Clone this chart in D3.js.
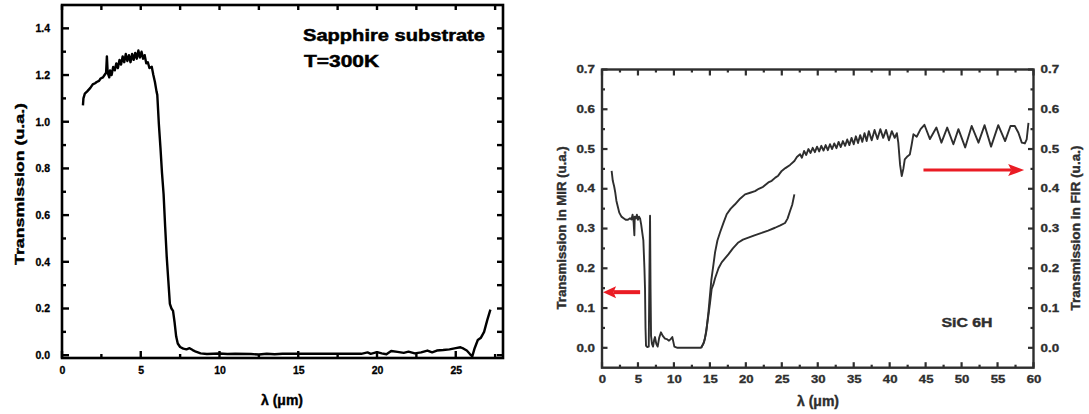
<!DOCTYPE html>
<html>
<head>
<meta charset="utf-8">
<script src="https://cdn.jsdelivr.net/npm/d3@7"></script>
<style>
  body { margin: 0; background: #fff; }
  svg { display: block; font-family: "Liberation Sans", Arial, sans-serif; font-weight: bold; }
</style>
</head>
<body>
<svg width="1089" height="414"></svg>
<script>
// ---------------- data ----------------
// sapphire substrate, T=300K : [lambda (um), transmission]
const sapphire = [
  [1.33,1.07],[1.36,1.10],[1.45,1.12],[1.6,1.13],[1.8,1.145],[1.95,1.16],[2.1,1.165],[2.2,1.17],
  [2.35,1.175],[2.45,1.185],[2.6,1.19],[2.7,1.2],[2.8,1.21],[2.85,1.28],[2.9,1.21],[3.0,1.19],
  [3.05,1.22],[3.15,1.2],[3.25,1.235],[3.35,1.22],[3.45,1.25],[3.55,1.23],[3.65,1.265],[3.75,1.245],
  [3.85,1.28],[3.95,1.255],[4.05,1.29],[4.15,1.26],[4.25,1.285],[4.35,1.255],[4.45,1.29],[4.55,1.265],
  [4.65,1.295],[4.75,1.27],[4.85,1.305],[4.95,1.275],[5.05,1.3],[5.15,1.27],[5.25,1.285],[5.35,1.25],
  [5.45,1.255],[5.55,1.23],[5.7,1.235],[5.8,1.2],[5.9,1.17],[6.0,1.13],[6.05,1.115],[6.15,0.99],
  [6.25,0.89],[6.35,0.78],[6.45,0.69],[6.55,0.55],[6.65,0.42],[6.75,0.32],[6.85,0.22],[6.95,0.2],
  [7.05,0.19],[7.15,0.14],[7.25,0.08],[7.35,0.05],[7.5,0.035],[7.7,0.028],[7.9,0.025],[8.1,0.03],
  [8.3,0.022],[8.5,0.015],[8.8,0.008],[9.2,0.005],[10,0.007],[10.5,0.005],[11,0.006],[12,0.005],
  [12.5,0.003],[13,0.006],[13.5,0.004],[14,0.006],[15,0.006],[16,0.006],[17,0.006],[18,0.006],
  [19,0.006],[19.4,0.012],[19.6,0.006],[20,0.013],[20.3,0.008],[20.6,0.004],[20.9,0.018],[21.3,0.014],
  [21.7,0.01],[22,0.015],[22.4,0.008],[22.8,0.012],[23.2,0.02],[23.5,0.012],[23.8,0.02],[24.2,0.022],
  [24.6,0.025],[25.0,0.03],[25.3,0.034],[25.5,0.028],[25.7,0.02],[25.9,0.005],[26.05,-0.005],[26.2,0.03],
  [26.4,0.065],[26.6,0.075],[26.8,0.1],[27.0,0.15],[27.2,0.195]
];

// SiC 6H, mid infrared (left axis)
const sicMIR = [
  [1.34,0.445],[1.5,0.42],[1.7,0.405],[1.85,0.39],[2.0,0.37],[2.2,0.355],[2.4,0.34],[2.7,0.33],
  [3.0,0.326],[3.3,0.322],[3.6,0.322],[3.9,0.326],[4.1,0.323],[4.25,0.335],[4.4,0.315],[4.5,0.283],
  [4.55,0.33],[4.7,0.325],[4.85,0.335],[5.0,0.322],[5.15,0.33],[5.3,0.325],[5.45,0.31],[5.6,0.29],
  [5.75,0.27],[5.9,0.2],[5.98,0.15],[6.05,0.05],[6.12,0.005],[6.3,0.002],[6.5,0.003],[6.6,0.2],
  [6.68,0.332],[6.75,0.15],[6.82,0.03],[6.95,0.01],[7.1,0.003],[7.25,0.02],[7.37,0.027],[7.55,0.01],
  [7.74,0.003],[7.95,0.025],[8.2,0.039],[8.45,0.03],[8.76,0.023],[9.0,0.022],[9.32,0.018],[9.55,0.022],
  [9.78,0.027],[10.06,0.003],[10.5,0.0],[11,0.0],[12,0.0],[13,0.0],[13.77,0.0],[14.1,0.01],
  [14.33,0.025],[14.55,0.05],[14.79,0.081],[15.0,0.11],[15.25,0.148],[15.5,0.16],[15.72,0.175],[16.2,0.2],
  [16.64,0.215],[17.1,0.225],[17.57,0.235],[18.2,0.25],[18.96,0.265],[19.6,0.272],[20.35,0.277],[21.2,0.283],
  [22.2,0.289],[23.1,0.295],[24.06,0.302],[24.8,0.308],[25.45,0.314],[25.8,0.325],[26.15,0.344],[26.45,0.36],
  [26.75,0.386]
];

// SiC 6H, far infrared (right axis)
const sicFIR = [
  [13.8,0.0],[14.2,0.015],[14.5,0.04],[14.8,0.09],[15.2,0.17],[15.5,0.21],[15.72,0.24],[16.05,0.27],
  [16.41,0.29],[16.9,0.315],[17.34,0.336],[17.9,0.35],[18.5,0.361],[19.2,0.375],[19.89,0.386],[20.6,0.39],
  [21.28,0.394],[21.8,0.4],[22.4,0.405],[23.13,0.416],[23.6,0.42],[24.1,0.428],[24.5,0.433],[24.99,0.445],
  [25.5,0.452],[26.15,0.46],[26.75,0.47],[27.1,0.48],[27.54,0.487],[27.8,0.478],[28.1,0.495],[28.4,0.485],
  [28.7,0.5],[29.0,0.49],[29.3,0.503],[29.6,0.492],[29.9,0.506],[30.2,0.494],[30.5,0.508],[30.8,0.496],
  [31.1,0.51],[31.4,0.497],[31.7,0.512],[32.0,0.5],[32.3,0.514],[32.6,0.502],[32.9,0.518],[33.2,0.505],
  [33.5,0.52],[33.8,0.508],[34.1,0.524],[34.4,0.51],[34.7,0.528],[35.0,0.512],[35.3,0.532],[35.6,0.515],
  [35.9,0.535],[36.2,0.518],[36.5,0.54],[36.8,0.52],[37.1,0.545],[37.5,0.522],[37.9,0.548],[38.3,0.525],
  [38.7,0.55],[39.1,0.528],[39.5,0.548],[39.9,0.522],[40.3,0.545],[40.7,0.528],[41.0,0.54],[41.2,0.516],
  [41.45,0.46],[41.68,0.432],[41.9,0.45],[42.1,0.474],[42.5,0.482],[42.8,0.486],[43.05,0.51],[43.3,0.537],
  [43.76,0.531],[44.3,0.55],[44.83,0.561],[45.6,0.525],[46.5,0.554],[47.2,0.516],[48.0,0.554],[48.86,0.512],
  [49.56,0.55],[50.5,0.504],[51.4,0.558],[52.35,0.516],[53.2,0.56],[54.1,0.506],[55.1,0.56],[56.05,0.52],
  [56.8,0.558],[57.4,0.558],[57.9,0.541],[58.37,0.516],[58.8,0.514],[59.05,0.524],[59.3,0.566]
];

// ticks
const sapXTicks = [0, 5, 10, 15, 20, 25];
const sapXMinor = [2.5, 7.5, 12.5, 17.5, 22.5, 27.5];
const sapYTicks = [0, 0.2, 0.4, 0.6, 0.8, 1.0, 1.2, 1.4];
const sapYMinor = [0.1, 0.3, 0.5, 0.7, 0.9, 1.1, 1.3];
const sicXTicks = [0, 5, 10, 15, 20, 25, 30, 35, 40, 45, 50, 55, 60];
const sicXMinor = [2.5, 7.5, 12.5, 17.5, 22.5, 27.5, 32.5, 37.5, 42.5, 47.5, 52.5, 57.5];
const sicYTicks = [0, 0.1, 0.2, 0.3, 0.4, 0.5, 0.6, 0.7];
const sicYMinor = [0.05, 0.15, 0.25, 0.35, 0.45, 0.55, 0.65];

// arrows: [x from, x to, y] in the panel's data units
const arrowMIR = [5.3, 0.15, 0.14];
const arrowFIR = [44.7, 58.7, 0.447];

const svg = d3.select("svg");
svg.append("rect").attr("width", 1089).attr("height", 414).attr("fill", "#fff");

// frame, tick labels (d3 axes) and inward tick marks on all four sides
function drawAxes(g, x, y, o) {
  const [x0, x1] = x.range(), [y0, y1] = y.range();
  const fmtY = d3.format(".1f");

  g.append("rect").attr("x", x0).attr("y", y1)
    .attr("width", x1 - x0).attr("height", y0 - y1)
    .attr("fill", "none").attr("stroke", o.color).attr("stroke-width", o.frameW);

  // tick marks, placed through the scales
  const marks = g.append("g").attr("stroke", o.color).attr("stroke-width", o.tickW);
  const hTicks = (vals, yy, len) => marks.append("g").selectAll("line").data(vals).join("line")
    .attr("x1", d => x(d)).attr("x2", d => x(d)).attr("y1", yy).attr("y2", yy + len);
  const vTicks = (vals, xx, len) => marks.append("g").selectAll("line").data(vals).join("line")
    .attr("y1", d => y(d)).attr("y2", d => y(d)).attr("x1", xx).attr("x2", xx + len);
  hTicks(o.xTicks, y0, -o.major);
  hTicks(o.xMinor, y0, -o.minor);
  hTicks(o.xTicks, y1, o.topMajor);
  hTicks(o.xMinor, y1, o.topMinor);
  vTicks(o.yTicks, x0, o.major);
  vTicks(o.yMinor, x0, o.minor);
  vTicks(o.yTicks, x1, -o.rightMajor);
  vTicks(o.yMinor, x1, -o.rightMinor);

  // labels from the library axes
  const lab = (axis, tr, fmt, pad) => {
    const a = g.append("g").attr("transform", tr)
      .call(axis.tickSizeInner(0).tickSizeOuter(0).tickPadding(pad).tickFormat(fmt));
    a.select(".domain").remove();
    a.selectAll(".tick line").remove();
    a.selectAll(".tick text").attr("fill", o.color).style("font-size", o.fs + "px")
      .attr("stroke", o.color).attr("stroke-width", 0.3);
    if (o.stretch) {
      a.selectAll(".tick text").attr("lengthAdjust", "spacingAndGlyphs")
        .attr("textLength", function () {
          const s = this.textContent;
          return s.replace(/\./g, "").length * o.stretch + (s.includes(".") ? 4 : 0);
        });
    }
  };
  lab(d3.axisBottom(x).tickValues(o.xTicks), `translate(0,${y0})`, d3.format("d"), o.xPad);
  lab(d3.axisLeft(y).tickValues(o.yTicks), `translate(${x0},0)`, fmtY, o.yPad);
  if (o.rightLabels) lab(d3.axisRight(y).tickValues(o.yTicks), `translate(${x1},0)`, fmtY, o.yPad);
}

function rotatedTitle(g, txt, cx, cy, fs, len, color) {
  g.append("text")
    .attr("transform", `translate(${cx},${cy}) rotate(-90)`)
    .attr("text-anchor", "middle").attr("dy", "0.35em")
    .attr("textLength", len).attr("lengthAdjust", "spacingAndGlyphs")
    .attr("stroke", color).attr("stroke-width", 0.4)
    .style("font-size", fs + "px").attr("fill", color).text(txt);
}

// ---------------- left panel: sapphire ----------------
const gL = svg.append("g");
const xL = d3.scaleLinear().domain([0, 28]).range([62, 503]);
const yL = d3.scaleLinear().domain([-0.012, 1.5]).range([358, 5]);

gL.append("path").datum(sapphire)
  .attr("d", d3.line().x(d => xL(d[0])).y(d => yL(d[1])))
  .attr("fill", "none").attr("stroke", "#000").attr("stroke-width", 2.4)
  .attr("stroke-linejoin", "round");

drawAxes(gL, xL, yL, {
  xTicks: sapXTicks, xMinor: sapXMinor, yTicks: sapYTicks, yMinor: sapYMinor,
  color: "#000", tickW: 2.4, frameW: 2.6, fs: 10.5,
  major: 7, minor: 4, topMajor: 5, topMinor: 5, rightMajor: 6, rightMinor: 6,
  xPad: 9, yPad: 12
});

gL.append("text").attr("x", 282).attr("y", 405).attr("text-anchor", "middle")
  .attr("stroke", "#000").attr("stroke-width", 0.4)
  .style("font-size", "14px").text("λ (μm)");
rotatedTitle(gL, "Transmission (u.a.)", 19, 184, 13, 162, "#000");

gL.append("text").attr("x", 303).attr("y", 41).attr("textLength", 182)
  .attr("lengthAdjust", "spacingAndGlyphs").attr("stroke", "#000").attr("stroke-width", 0.5)
  .style("font-size", "17px").text("Sapphire substrate");
gL.append("text").attr("x", 304).attr("y", 67).attr("textLength", 75)
  .attr("lengthAdjust", "spacingAndGlyphs").attr("stroke", "#000").attr("stroke-width", 0.5)
  .style("font-size", "17px").text("T=300K");

// ---------------- right panel: SiC 6H ----------------
const ink = "#2e2e2e";
const gR = svg.append("g");
const xR = d3.scaleLinear().domain([0, 60]).range([602, 1033.5]);
const yR = d3.scaleLinear().domain([-0.05, 0.7]).range([367.7, 69.5]);

const lineR = d3.line().x(d => xR(d[0])).y(d => yR(d[1]));
[sicMIR, sicFIR].forEach(s => {
  gR.append("path").datum(s).attr("d", lineR)
    .attr("fill", "none").attr("stroke", ink).attr("stroke-width", 1.9)
    .attr("stroke-linejoin", "round");
});

drawAxes(gR, xR, yR, {
  xTicks: sicXTicks, xMinor: sicXMinor, yTicks: sicYTicks, yMinor: sicYMinor,
  color: ink, tickW: 2.2, frameW: 2.4, fs: 10, stretch: 7.3,
  major: 5.5, minor: 3, topMajor: 6, topMinor: 3, rightMajor: 5.5, rightMinor: 3,
  xPad: 8, yPad: 7, rightLabels: true
});

// red arrows
function arrow(a, w, head) {
  const xa = xR(a[0]), xb = xR(a[1]), yy = yR(a[2]);
  const dir = Math.sign(xb - xa);
  gR.append("line").attr("x1", xa).attr("x2", xb - dir * head * 0.8).attr("y1", yy).attr("y2", yy)
    .attr("stroke", "#ea1c24").attr("stroke-width", w);
  gR.append("path")
    .attr("d", `M${xb},${yy} L${xb - dir * head},${yy - 6} L${xb - dir * head * 0.8},${yy} L${xb - dir * head},${yy + 6} Z`)
    .attr("fill", "#ea1c24");
}
arrow(arrowMIR, 4, 13);
arrow(arrowFIR, 3, 16);

gR.append("text").attr("x", 967).attr("y", 327).attr("text-anchor", "middle")
  .attr("textLength", 51).attr("lengthAdjust", "spacingAndGlyphs")
  .attr("stroke", ink).attr("stroke-width", 0.4)
  .style("font-size", "12px").attr("fill", ink).text("SiC 6H");

gR.append("text").attr("x", 818).attr("y", 406).attr("text-anchor", "middle")
  .attr("stroke", ink).attr("stroke-width", 0.4)
  .style("font-size", "14px").attr("fill", ink).text("λ (μm)");
rotatedTitle(gR, "Transmission in MIR (u.a.)", 562, 228, 12, 163, ink);
rotatedTitle(gR, "Transmission in FIR (u.a.)", 1076, 228, 12, 165, ink);
</script>
</body>
</html>
